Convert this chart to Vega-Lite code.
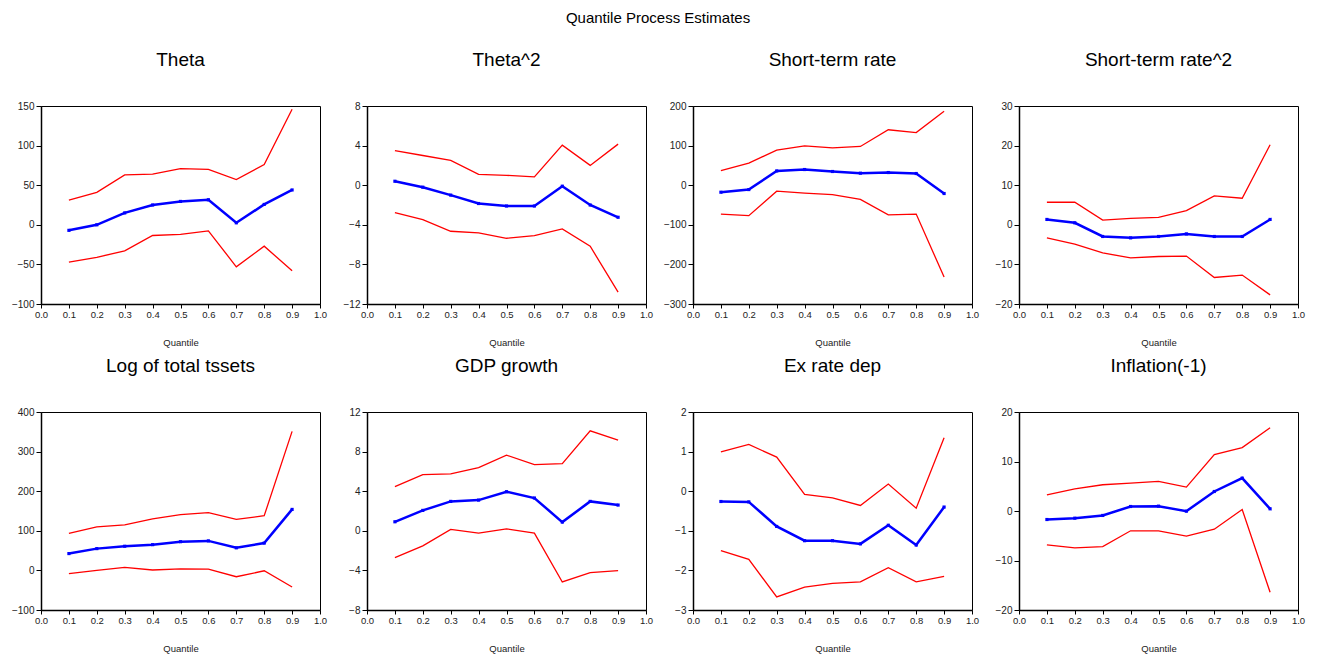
{
  "$schema": "https://vega.github.io/schema/vega-lite/v6.json",
  "background": "white",
  "padding": {"left": 10, "top": 10, "right": 5, "bottom": 5},
  "title": {"text": "Quantile Process Estimates", "fontSize": 15, "offset": 25, "anchor": "middle"},
  "datasets": {
    "qp": [
      {"panel": "Theta", "q": 0.1, "lower": -47, "est": -7, "upper": 31},
      {"panel": "Theta", "q": 0.2, "lower": -41, "est": 0, "upper": 41},
      {"panel": "Theta", "q": 0.3, "lower": -33, "est": 15, "upper": 63},
      {"panel": "Theta", "q": 0.4, "lower": -13.5, "est": 25, "upper": 64},
      {"panel": "Theta", "q": 0.5, "lower": -12, "est": 29.5, "upper": 71},
      {"panel": "Theta", "q": 0.6, "lower": -7.6, "est": 31.6, "upper": 70},
      {"panel": "Theta", "q": 0.7, "lower": -53, "est": 2.5, "upper": 57},
      {"panel": "Theta", "q": 0.8, "lower": -27, "est": 25.7, "upper": 76},
      {"panel": "Theta", "q": 0.9, "lower": -58, "est": 44, "upper": 146},
      {"panel": "Theta^2", "q": 0.1, "lower": -2.77, "est": 0.4, "upper": 3.5},
      {"panel": "Theta^2", "q": 0.2, "lower": -3.47, "est": -0.2, "upper": 3.0},
      {"panel": "Theta^2", "q": 0.3, "lower": -4.65, "est": -1.0, "upper": 2.5},
      {"panel": "Theta^2", "q": 0.4, "lower": -4.82, "est": -1.85, "upper": 1.1},
      {"panel": "Theta^2", "q": 0.5, "lower": -5.36, "est": -2.1, "upper": 1.0},
      {"panel": "Theta^2", "q": 0.6, "lower": -5.09, "est": -2.1, "upper": 0.84},
      {"panel": "Theta^2", "q": 0.7, "lower": -4.42, "est": -0.1, "upper": 4.05},
      {"panel": "Theta^2", "q": 0.8, "lower": -6.17, "est": -2.0, "upper": 2.0},
      {"panel": "Theta^2", "q": 0.9, "lower": -10.8, "est": -3.24, "upper": 4.15},
      {"panel": "Short-term rate", "q": 0.1, "lower": -73, "est": -17.7, "upper": 37},
      {"panel": "Short-term rate", "q": 0.2, "lower": -77, "est": -11, "upper": 56},
      {"panel": "Short-term rate", "q": 0.3, "lower": -15, "est": 36, "upper": 88.5},
      {"panel": "Short-term rate", "q": 0.4, "lower": -20, "est": 39.6, "upper": 99.5},
      {"panel": "Short-term rate", "q": 0.5, "lower": -23.6, "est": 34.6, "upper": 94.4},
      {"panel": "Short-term rate", "q": 0.6, "lower": -36, "est": 30.4, "upper": 97.8},
      {"panel": "Short-term rate", "q": 0.7, "lower": -75, "est": 32, "upper": 140},
      {"panel": "Short-term rate", "q": 0.8, "lower": -73, "est": 29.5, "upper": 133},
      {"panel": "Short-term rate", "q": 0.9, "lower": -232, "est": -21, "upper": 187},
      {"panel": "Short-term rate^2", "q": 0.1, "lower": -3.3, "est": 1.35, "upper": 5.7},
      {"panel": "Short-term rate^2", "q": 0.2, "lower": -4.9, "est": 0.5, "upper": 5.7},
      {"panel": "Short-term rate^2", "q": 0.3, "lower": -7.1, "est": -2.95, "upper": 1.2},
      {"panel": "Short-term rate^2", "q": 0.4, "lower": -8.35, "est": -3.3, "upper": 1.6},
      {"panel": "Short-term rate^2", "q": 0.5, "lower": -8.0, "est": -2.95, "upper": 1.9},
      {"panel": "Short-term rate^2", "q": 0.6, "lower": -7.9, "est": -2.3, "upper": 3.6},
      {"panel": "Short-term rate^2", "q": 0.7, "lower": -13.3, "est": -2.95, "upper": 7.3},
      {"panel": "Short-term rate^2", "q": 0.8, "lower": -12.7, "est": -2.95, "upper": 6.7},
      {"panel": "Short-term rate^2", "q": 0.9, "lower": -17.7, "est": 1.35, "upper": 20.2},
      {"panel": "Log of total tssets", "q": 0.1, "lower": -8, "est": 42.5, "upper": 93.6},
      {"panel": "Log of total tssets", "q": 0.2, "lower": 0, "est": 55, "upper": 110},
      {"panel": "Log of total tssets", "q": 0.3, "lower": 7.6, "est": 61, "upper": 115},
      {"panel": "Log of total tssets", "q": 0.4, "lower": 1, "est": 65, "upper": 130},
      {"panel": "Log of total tssets", "q": 0.5, "lower": 4, "est": 72.5, "upper": 141},
      {"panel": "Log of total tssets", "q": 0.6, "lower": 3.4, "est": 74.5, "upper": 146},
      {"panel": "Log of total tssets", "q": 0.7, "lower": -16, "est": 57, "upper": 129},
      {"panel": "Log of total tssets", "q": 0.8, "lower": -1, "est": 69, "upper": 138},
      {"panel": "Log of total tssets", "q": 0.9, "lower": -42, "est": 154, "upper": 351},
      {"panel": "GDP growth", "q": 0.1, "lower": -2.7, "est": 0.91, "upper": 4.46},
      {"panel": "GDP growth", "q": 0.2, "lower": -1.52, "est": 2.06, "upper": 5.68},
      {"panel": "GDP growth", "q": 0.3, "lower": 0.14, "est": 2.97, "upper": 5.74},
      {"panel": "GDP growth", "q": 0.4, "lower": -0.24, "est": 3.1, "upper": 6.39},
      {"panel": "GDP growth", "q": 0.5, "lower": 0.2, "est": 3.95, "upper": 7.64},
      {"panel": "GDP growth", "q": 0.6, "lower": -0.24, "est": 3.31, "upper": 6.69},
      {"panel": "GDP growth", "q": 0.7, "lower": -5.17, "est": 0.88, "upper": 6.79},
      {"panel": "GDP growth", "q": 0.8, "lower": -4.22, "est": 2.97, "upper": 10.1},
      {"panel": "GDP growth", "q": 0.9, "lower": -4.02, "est": 2.6, "upper": 9.16},
      {"panel": "Ex rate dep", "q": 0.1, "lower": -1.5, "est": -0.26, "upper": 0.99},
      {"panel": "Ex rate dep", "q": 0.2, "lower": -1.72, "est": -0.27, "upper": 1.18},
      {"panel": "Ex rate dep", "q": 0.3, "lower": -2.67, "est": -0.89, "upper": 0.86},
      {"panel": "Ex rate dep", "q": 0.4, "lower": -2.42, "est": -1.25, "upper": -0.08},
      {"panel": "Ex rate dep", "q": 0.5, "lower": -2.33, "est": -1.25, "upper": -0.17},
      {"panel": "Ex rate dep", "q": 0.6, "lower": -2.29, "est": -1.33, "upper": -0.36},
      {"panel": "Ex rate dep", "q": 0.7, "lower": -1.93, "est": -0.86, "upper": 0.18},
      {"panel": "Ex rate dep", "q": 0.8, "lower": -2.29, "est": -1.36, "upper": -0.43},
      {"panel": "Ex rate dep", "q": 0.9, "lower": -2.15, "est": -0.4, "upper": 1.35},
      {"panel": "Inflation(-1)", "q": 0.1, "lower": -6.84, "est": -1.72, "upper": 3.27},
      {"panel": "Inflation(-1)", "q": 0.2, "lower": -7.45, "est": -1.45, "upper": 4.48},
      {"panel": "Inflation(-1)", "q": 0.3, "lower": -7.18, "est": -0.9, "upper": 5.3},
      {"panel": "Inflation(-1)", "q": 0.4, "lower": -4.0, "est": 0.91, "upper": 5.63},
      {"panel": "Inflation(-1)", "q": 0.5, "lower": -4.0, "est": 0.98, "upper": 5.97},
      {"panel": "Inflation(-1)", "q": 0.6, "lower": -5.09, "est": -0.03, "upper": 4.82},
      {"panel": "Inflation(-1)", "q": 0.7, "lower": -3.67, "est": 3.94, "upper": 11.4},
      {"panel": "Inflation(-1)", "q": 0.8, "lower": 0.3, "est": 6.64, "upper": 12.8},
      {"panel": "Inflation(-1)", "q": 0.9, "lower": -16.4, "est": 0.44, "upper": 16.8}
    ]
  },
  "data": {"name": "qp"},
  "columns": 4,
  "bounds": "flush",
  "spacing": {"row": 108, "column": 47},
  "concat": [
    {
      "title": "Theta", "width": 279, "height": 198,
      "transform": [{"filter": "datum.panel === 'Theta'"}, {"fold": ["lower", "est", "upper"], "as": ["s", "v"]}],
      "encoding": {
        "x": {"field": "q", "type": "quantitative", "scale": {"domain": [0, 1], "nice": false}, "axis": {"values": [0, 0.1, 0.2, 0.3, 0.4, 0.5, 0.6, 0.7, 0.8, 0.9, 1], "format": ".1f", "title": "Quantile"}},
        "y": {"field": "v", "type": "quantitative", "scale": {"domain": [-100, 150], "nice": false, "zero": false}, "axis": {"values": [-100, -50, 0, 50, 100, 150], "title": null}}
      },
      "layer": [
        {"transform": [{"filter": "datum.s !== 'est'"}], "mark": {"type": "line", "color": "#ff0000", "strokeWidth": 1.3}, "encoding": {"detail": {"field": "s"}}},
        {"transform": [{"filter": "datum.s === 'est'"}], "mark": {"type": "line", "color": "#0000ff", "strokeWidth": 2.5}, "encoding": {}},
        {"transform": [{"filter": "datum.s === 'est'"}], "mark": {"type": "square", "color": "#0000ff", "filled": true, "size": 10, "opacity": 1}, "encoding": {}}
      ]
    },
    {
      "title": "Theta^2", "width": 279, "height": 198,
      "transform": [{"filter": "datum.panel === 'Theta^2'"}, {"fold": ["lower", "est", "upper"], "as": ["s", "v"]}],
      "encoding": {
        "x": {"field": "q", "type": "quantitative", "scale": {"domain": [0, 1], "nice": false}, "axis": {"values": [0, 0.1, 0.2, 0.3, 0.4, 0.5, 0.6, 0.7, 0.8, 0.9, 1], "format": ".1f", "title": "Quantile"}},
        "y": {"field": "v", "type": "quantitative", "scale": {"domain": [-12, 8], "nice": false, "zero": false}, "axis": {"values": [-12, -8, -4, 0, 4, 8], "title": null}}
      },
      "layer": [
        {"transform": [{"filter": "datum.s !== 'est'"}], "mark": {"type": "line", "color": "#ff0000", "strokeWidth": 1.3}, "encoding": {"detail": {"field": "s"}}},
        {"transform": [{"filter": "datum.s === 'est'"}], "mark": {"type": "line", "color": "#0000ff", "strokeWidth": 2.5}, "encoding": {}},
        {"transform": [{"filter": "datum.s === 'est'"}], "mark": {"type": "square", "color": "#0000ff", "filled": true, "size": 10, "opacity": 1}, "encoding": {}}
      ]
    },
    {
      "title": "Short-term rate", "width": 279, "height": 198,
      "transform": [{"filter": "datum.panel === 'Short-term rate'"}, {"fold": ["lower", "est", "upper"], "as": ["s", "v"]}],
      "encoding": {
        "x": {"field": "q", "type": "quantitative", "scale": {"domain": [0, 1], "nice": false}, "axis": {"values": [0, 0.1, 0.2, 0.3, 0.4, 0.5, 0.6, 0.7, 0.8, 0.9, 1], "format": ".1f", "title": "Quantile"}},
        "y": {"field": "v", "type": "quantitative", "scale": {"domain": [-300, 200], "nice": false, "zero": false}, "axis": {"values": [-300, -200, -100, 0, 100, 200], "title": null}}
      },
      "layer": [
        {"transform": [{"filter": "datum.s !== 'est'"}], "mark": {"type": "line", "color": "#ff0000", "strokeWidth": 1.3}, "encoding": {"detail": {"field": "s"}}},
        {"transform": [{"filter": "datum.s === 'est'"}], "mark": {"type": "line", "color": "#0000ff", "strokeWidth": 2.5}, "encoding": {}},
        {"transform": [{"filter": "datum.s === 'est'"}], "mark": {"type": "square", "color": "#0000ff", "filled": true, "size": 10, "opacity": 1}, "encoding": {}}
      ]
    },
    {
      "title": "Short-term rate^2", "width": 279, "height": 198,
      "transform": [{"filter": "datum.panel === 'Short-term rate^2'"}, {"fold": ["lower", "est", "upper"], "as": ["s", "v"]}],
      "encoding": {
        "x": {"field": "q", "type": "quantitative", "scale": {"domain": [0, 1], "nice": false}, "axis": {"values": [0, 0.1, 0.2, 0.3, 0.4, 0.5, 0.6, 0.7, 0.8, 0.9, 1], "format": ".1f", "title": "Quantile"}},
        "y": {"field": "v", "type": "quantitative", "scale": {"domain": [-20, 30], "nice": false, "zero": false}, "axis": {"values": [-20, -10, 0, 10, 20, 30], "title": null}}
      },
      "layer": [
        {"transform": [{"filter": "datum.s !== 'est'"}], "mark": {"type": "line", "color": "#ff0000", "strokeWidth": 1.3}, "encoding": {"detail": {"field": "s"}}},
        {"transform": [{"filter": "datum.s === 'est'"}], "mark": {"type": "line", "color": "#0000ff", "strokeWidth": 2.5}, "encoding": {}},
        {"transform": [{"filter": "datum.s === 'est'"}], "mark": {"type": "square", "color": "#0000ff", "filled": true, "size": 10, "opacity": 1}, "encoding": {}}
      ]
    },
    {
      "title": "Log of total tssets", "width": 279, "height": 198,
      "transform": [{"filter": "datum.panel === 'Log of total tssets'"}, {"fold": ["lower", "est", "upper"], "as": ["s", "v"]}],
      "encoding": {
        "x": {"field": "q", "type": "quantitative", "scale": {"domain": [0, 1], "nice": false}, "axis": {"values": [0, 0.1, 0.2, 0.3, 0.4, 0.5, 0.6, 0.7, 0.8, 0.9, 1], "format": ".1f", "title": "Quantile"}},
        "y": {"field": "v", "type": "quantitative", "scale": {"domain": [-100, 400], "nice": false, "zero": false}, "axis": {"values": [-100, 0, 100, 200, 300, 400], "title": null}}
      },
      "layer": [
        {"transform": [{"filter": "datum.s !== 'est'"}], "mark": {"type": "line", "color": "#ff0000", "strokeWidth": 1.3}, "encoding": {"detail": {"field": "s"}}},
        {"transform": [{"filter": "datum.s === 'est'"}], "mark": {"type": "line", "color": "#0000ff", "strokeWidth": 2.5}, "encoding": {}},
        {"transform": [{"filter": "datum.s === 'est'"}], "mark": {"type": "square", "color": "#0000ff", "filled": true, "size": 10, "opacity": 1}, "encoding": {}}
      ]
    },
    {
      "title": "GDP growth", "width": 279, "height": 198,
      "transform": [{"filter": "datum.panel === 'GDP growth'"}, {"fold": ["lower", "est", "upper"], "as": ["s", "v"]}],
      "encoding": {
        "x": {"field": "q", "type": "quantitative", "scale": {"domain": [0, 1], "nice": false}, "axis": {"values": [0, 0.1, 0.2, 0.3, 0.4, 0.5, 0.6, 0.7, 0.8, 0.9, 1], "format": ".1f", "title": "Quantile"}},
        "y": {"field": "v", "type": "quantitative", "scale": {"domain": [-8, 12], "nice": false, "zero": false}, "axis": {"values": [-8, -4, 0, 4, 8, 12], "title": null}}
      },
      "layer": [
        {"transform": [{"filter": "datum.s !== 'est'"}], "mark": {"type": "line", "color": "#ff0000", "strokeWidth": 1.3}, "encoding": {"detail": {"field": "s"}}},
        {"transform": [{"filter": "datum.s === 'est'"}], "mark": {"type": "line", "color": "#0000ff", "strokeWidth": 2.5}, "encoding": {}},
        {"transform": [{"filter": "datum.s === 'est'"}], "mark": {"type": "square", "color": "#0000ff", "filled": true, "size": 10, "opacity": 1}, "encoding": {}}
      ]
    },
    {
      "title": "Ex rate dep", "width": 279, "height": 198,
      "transform": [{"filter": "datum.panel === 'Ex rate dep'"}, {"fold": ["lower", "est", "upper"], "as": ["s", "v"]}],
      "encoding": {
        "x": {"field": "q", "type": "quantitative", "scale": {"domain": [0, 1], "nice": false}, "axis": {"values": [0, 0.1, 0.2, 0.3, 0.4, 0.5, 0.6, 0.7, 0.8, 0.9, 1], "format": ".1f", "title": "Quantile"}},
        "y": {"field": "v", "type": "quantitative", "scale": {"domain": [-3, 2], "nice": false, "zero": false}, "axis": {"values": [-3, -2, -1, 0, 1, 2], "title": null}}
      },
      "layer": [
        {"transform": [{"filter": "datum.s !== 'est'"}], "mark": {"type": "line", "color": "#ff0000", "strokeWidth": 1.3}, "encoding": {"detail": {"field": "s"}}},
        {"transform": [{"filter": "datum.s === 'est'"}], "mark": {"type": "line", "color": "#0000ff", "strokeWidth": 2.5}, "encoding": {}},
        {"transform": [{"filter": "datum.s === 'est'"}], "mark": {"type": "square", "color": "#0000ff", "filled": true, "size": 10, "opacity": 1}, "encoding": {}}
      ]
    },
    {
      "title": "Inflation(-1)", "width": 279, "height": 198,
      "transform": [{"filter": "datum.panel === 'Inflation(-1)'"}, {"fold": ["lower", "est", "upper"], "as": ["s", "v"]}],
      "encoding": {
        "x": {"field": "q", "type": "quantitative", "scale": {"domain": [0, 1], "nice": false}, "axis": {"values": [0, 0.1, 0.2, 0.3, 0.4, 0.5, 0.6, 0.7, 0.8, 0.9, 1], "format": ".1f", "title": "Quantile"}},
        "y": {"field": "v", "type": "quantitative", "scale": {"domain": [-20, 20], "nice": false, "zero": false}, "axis": {"values": [-20, -10, 0, 10, 20], "title": null}}
      },
      "layer": [
        {"transform": [{"filter": "datum.s !== 'est'"}], "mark": {"type": "line", "color": "#ff0000", "strokeWidth": 1.3}, "encoding": {"detail": {"field": "s"}}},
        {"transform": [{"filter": "datum.s === 'est'"}], "mark": {"type": "line", "color": "#0000ff", "strokeWidth": 2.5}, "encoding": {}},
        {"transform": [{"filter": "datum.s === 'est'"}], "mark": {"type": "square", "color": "#0000ff", "filled": true, "size": 10, "opacity": 1}, "encoding": {}}
      ]
    }
  ],
  "config": {
    "font": "Liberation Sans",
    "view": {"stroke": "black", "strokeWidth": 1, "fill": "white"},
    "axis": {
      "grid": false, "domainColor": "black", "domainWidth": 1.5, "tickColor": "black", "tickWidth": 1,
      "labelColor": "#222222", "labelFont": "Liberation Sans", "labelFontSize": 10, "labelFlush": false, "labelOverlap": false,
      "titleFont": "Liberation Sans", "titleFontWeight": "normal", "titleFontSize": 9.5, "titleColor": "#222222"
    },
    "axisX": {"tickSize": 4, "labelPadding": 1, "labelFontSize": 9.5, "titlePadding": 19},
    "axisY": {"tickSize": 5, "labelPadding": 2},
    "title": {"font": "Liberation Sans", "fontWeight": "normal", "fontSize": 19, "color": "black", "offset": 31, "anchor": "middle"}
  }
}
